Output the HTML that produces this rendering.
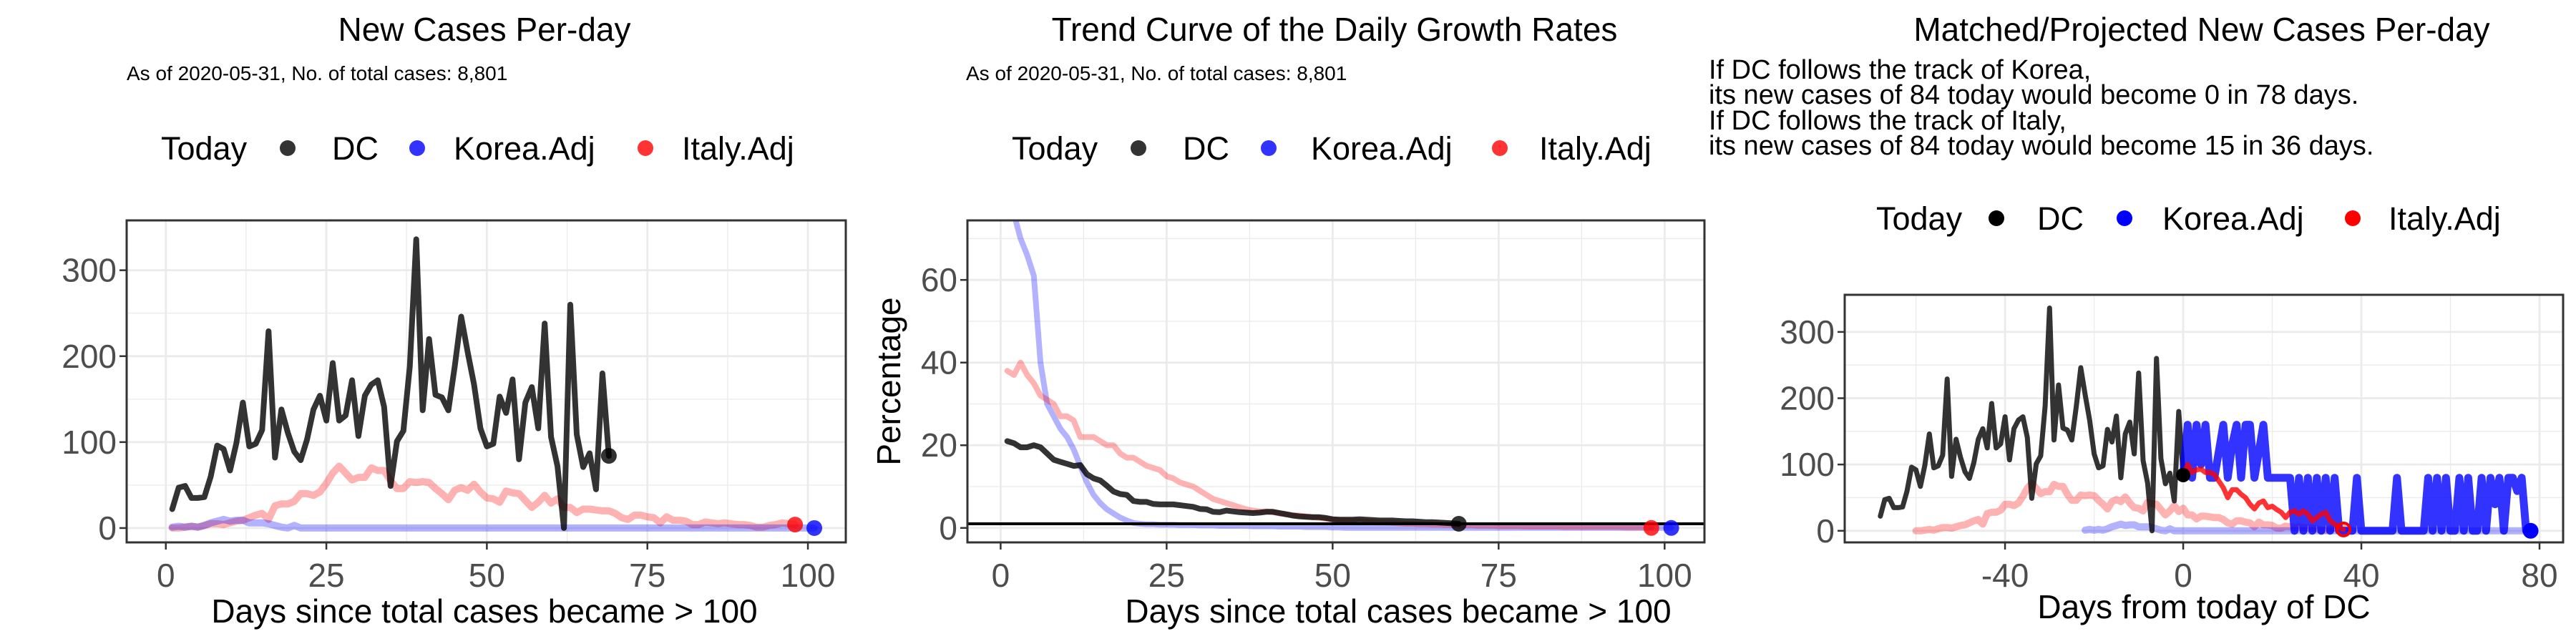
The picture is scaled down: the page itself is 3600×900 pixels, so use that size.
<!DOCTYPE html>
<html><head><meta charset="utf-8"><style>
body{margin:0;background:#fff}
svg{display:block;font-family:"Liberation Sans",sans-serif}
</style></head><body>
<svg id="c" width="3600" height="900" viewBox="0 0 3600 900" xmlns="http://www.w3.org/2000/svg">
<rect width="3600" height="900" fill="#fff"/>
<g font-size="46" fill="#000">
<text x="677" y="57" text-anchor="middle">New Cases Per-day</text>
<text x="177" y="112" font-size="28">As of 2020-05-31, No. of total cases: 8,801</text>
<text x="1865" y="57" text-anchor="middle">Trend Curve of the Daily Growth Rates</text>
<text x="1350" y="112" font-size="28">As of 2020-05-31, No. of total cases: 8,801</text>
<text x="3077" y="57" text-anchor="middle">Matched/Projected New Cases Per-day</text>
<g font-size="38">
<text x="2388" y="110">If DC follows the track of Korea,</text>
<text x="2388" y="145">its new cases of 84 today would become 0 in 78 days.</text>
<text x="2388" y="181">If DC follows the track of Italy,</text>
<text x="2388" y="216">its new cases of 84 today would become 15 in 36 days.</text>
</g>
</g>
<g id="legends" font-size="45"></g>
<g id="p1"></g><g id="p2"></g><g id="p3"></g>
</svg>
<script>
// ---- data ----
const dcDays = [1,2,3,4,5,6,7,8,9,10,11,12,13,14,15,16,17,18,19,20,21,22,23,24,25,26,27,28,29,30,31,32,33,34,35,36,37,38,39,40,41,42,43,44,45,46,47,48,49,50,51,52,53,54,55,56,57,58,59,60,61,62,63,64,65,66,67,68,69];
const dcNew = [22,47,49,35,35,36,60,96,92,67,99,146,95,98,114,229,82,138,111,89,79,103,138,154,125,192,125,131,172,107,154,167,172,141,49,101,113,188,336,137,220,155,152,137,188,246,205,167,116,95,98,153,134,173,80,146,164,116,238,106,72,0,260,109,71,87,45,180,84];
const italyNew = [0,0,1,2,1,3,5,5,4,6,8,9,12,15,17,10,26,28,28,31,40,40,38,42,52,64,72,64,56,59,59,70,67,67,55,46,46,54,53,54,53,46,40,33,44,47,44,51,42,35,34,30,43,41,40,32,24,30,38,29,34,24,24,18,22,22,21,20,20,17,12,10,15,15,13,12,6,13,9,9,8,4,4,7,6,5,6,5,4,4,3,1,1,3,4,6,5,4];
const koreaNew = [1,2,1,2,1,3,6,8,10,8,9,9,6,6,6,5,3,1,0,3,0,0,0,0,0,0,0,0,0,0,0,0,0,0,0,0,0,0,0,0,0,0,0,0,0,0,0,0,0,0,0,0,0,0,0,0,0,0,0,0,0,0,0,0,0,0,0,0,0,0,0,0,0,0,0,0,0,0,0,0,0,0,0,0,0,0,0,0,0,0,0,0,0,0,0,0,0,0,0,0,0];
const dcGrowth = [21,20.5,19.5,19.5,20,19.5,18,16.5,16,15.5,15,15.2,13,12,11.5,10.2,8.8,8.2,8,6.5,6.3,6.3,5.8,5.7,5.7,5.7,5.5,5.3,5.1,4.6,4.5,3.9,3.8,4.2,4.0,3.8,3.7,3.6,3.7,3.9,3.9,3.6,3.3,3.0,2.8,2.7,2.6,2.6,2.4,2.1,2.0,2.0,2.0,2.1,2.0,1.9,1.8,1.8,1.8,1.7,1.6,1.6,1.5,1.4,1.4,1.3,1.2,1.1,1.0];
const italyGrowth = [38,37,40,37,35,32,31,30,27,27,26,22,22,22,21,20,20,18,17,17,16,15,14.5,14,12.5,12,11,10.5,10,9,8,7,6.5,6,5.5,5,4.5,4.2,4,4,3.8,3.5,3.3,3.1,3.0,2.8,2.6,2.4,2.2,2.0,1.9,1.8,1.7,1.6,1.5,1.4,1.3,1.3,1.2,1.1,1.0,1.0,0.9,0.9,0.8,0.8,0.7,0.7,0.6,0.6,0.6,0.5,0.5,0.5,0.4,0.4,0.4,0.4,0.3,0.3,0.3,0.3,0.3,0.3,0.2,0.2,0.2,0.2,0.2,0.2,0.2,0.2,0.2,0.1,0.1,0.1,0.1,0.1];
const koreaGrowth = [85,76,70,66,61,40,30,27,24,22,19,15,11,8,6,4.5,3.5,2.5,1.8,1.2,1.0,0.9,0.9,0.8,0.8,0.8,0.7,0.7,0.7,0.6,0.6,0.6,0.5,0.5,0.5,0.5,0.5,0.4,0.4,0.4,0.4,0.3,0.3,0.3,0.3,0.2,0.2,0.2,0.2,0.1,0.1,0,0,0,0,0,0,0,0,0,0,0,0,0,0,0,0,0,0,0,0,0,0,0,0,0,0,0,0,0,0,0,0,0,0,0,0,0,0,0,0,0,0,0,0,0,0,0,0,0,0];
const redProj = [84,100,88,92,93,88,88,85,75,65,50,62,62,55,50,40,33,42,45,35,37,32,28,20,28,30,25,30,25,15,20,25,28,15,10,5,2];
const blueProj = [84,160,80,160,100,160,80,80,120,160,80,130,160,80,160,160,80,120,160,80,80,80,80,80,80,0,80,0,80,0,80,0,80,0,80,0,0,0,0,80,0,0,0,0,0,0,0,0,80,0,0,0,0,0,0,80,0,80,0,80,0,0,80,0,80,0,0,80,0,80,40,80,0,80,80,60,80,0,0];
const p1XTicks = [0,25,50,75,100];
const p1YTicks = [0,100,200,300];
const p2YTicks = [0,20,40,60];
const p3XTicks = [-40,0,40,80];
const dcShift = -69, italyShift = -61, koreaShift = -23;

const NS='http://www.w3.org/2000/svg';
function el(parent,tag,attrs){const e=document.createElementNS(NS,tag);for(const k in attrs)e.setAttribute(k,attrs[k]);parent.appendChild(e);return e;}

function panel(id,box,xd,yd,xMaj,xMin,yMaj,yMin){
  const g=document.getElementById(id);
  const sx=v=>box.l+(v-xd[0])/(xd[1]-xd[0])*(box.r-box.l);
  const sy=v=>box.b-(v-yd[0])/(yd[1]-yd[0])*(box.b-box.t);
  const cp=el(g,'clipPath',{id:id+'clip'});
  el(cp,'rect',{x:box.l,y:box.t,width:box.r-box.l,height:box.b-box.t});
  const grid=el(g,'g',{});
  
  
  xMin.forEach(v=>el(grid,'line',{x1:sx(v),x2:sx(v),y1:box.t,y2:box.b,stroke:'#ebebeb','stroke-width':1.3}));
  yMin.forEach(v=>el(grid,'line',{y1:sy(v),y2:sy(v),x1:box.l,x2:box.r,stroke:'#ebebeb','stroke-width':1.3}));
  xMaj.forEach(v=>el(grid,'line',{x1:sx(v),x2:sx(v),y1:box.t,y2:box.b,stroke:'#ebebeb','stroke-width':2.8}));
  yMaj.forEach(v=>el(grid,'line',{y1:sy(v),y2:sy(v),x1:box.l,x2:box.r,stroke:'#ebebeb','stroke-width':2.8}));
  const data=el(g,'g',{'clip-path':'url(#'+id+'clip)'});
  const ax=el(g,'g',{});
  el(ax,'rect',{x:box.l,y:box.t,width:box.r-box.l,height:box.b-box.t,fill:'none',stroke:'#333','stroke-width':3});
  const xt=el(ax,'g',{'font-size':46,fill:'#4d4d4d','text-anchor':'middle'});
  
  
  xMaj.forEach(v=>{el(xt,'line',{x1:sx(v),x2:sx(v),y1:box.b,y2:box.b+10,stroke:'#333','stroke-width':2.5});const t=el(xt,'text',{x:sx(v),y:box.b+62});t.textContent=v;});
  const yt=el(ax,'g',{'font-size':46,fill:'#4d4d4d','text-anchor':'end'});
  
  
  yMaj.forEach(v=>{el(yt,'line',{x1:box.l-10,x2:box.l,y1:sy(v),y2:sy(v),stroke:'#333','stroke-width':2.5});const t=el(yt,'text',{x:box.l-14,y:sy(v)+16});t.textContent=v;});
  return {g,data,sx,sy,box};
}
function line(P,xs,ys,color,op,w,name){
  const d=xs.map((x,i)=>(i?'L':'M')+P.sx(x).toFixed(1)+','+P.sy(ys[i]).toFixed(1)).join('');
  const p=el(P.data,'path',{d,fill:'none',stroke:color,'stroke-opacity':op,'stroke-width':w,'stroke-linejoin':'round','stroke-linecap':'round'});
  
  
  return p;
}
function dot(P,x,y,color,op,r,name,hollow){
  const c=el(P.data,'circle',{cx:P.sx(x),cy:P.sy(y),r,fill:hollow?'none':color,'fill-opacity':op,stroke:color,'stroke-width':hollow?4:0});
  
  
}
const idx=n=>Array.from({length:n},(_,i)=>i+1);

// Panel 1
const P1=panel('p1',{l:177,r:1182,t:308,b:758},[-6.1,105.9],[-16.7,358],p1XTicks,[12.5,37.5,62.5,87.5],p1YTicks,[50,150,250]);
line(P1,idx(italyNew.length),italyNew,'#ff0000',0.3,10,'italy-adj-line');
line(P1,idx(koreaNew.length),koreaNew,'#0000ff',0.3,10,'korea-adj-line');
line(P1,dcDays,dcNew,'#000',0.8,8,'dc-line');
dot(P1,69,84,'#000',0.8,11,'dc-today-point');
dot(P1,98,italyNew[97],'#ff0000',0.8,11,'italy-today-point');
dot(P1,101,0,'#0000ff',0.8,11,'korea-today-point');
{const t=el(P1.g,'text',{x:677,y:870,'font-size':46,'text-anchor':'middle'});t.textContent='Days since total cases became > 100';}

// Panel 2
const P2=panel('p2',{l:1352,r:2382,t:308,b:758},[-5,106],[-3.5,74.4],p1XTicks,[12.5,37.5,62.5,87.5],p2YTicks,[10,30,50,70]);
line(P2,idx(koreaGrowth.length),koreaGrowth,'#0000ff',0.3,8,'korea-growth-line');
line(P2,idx(italyGrowth.length),italyGrowth,'#ff0000',0.3,8,'italy-growth-line');
line(P2,dcDays,dcGrowth,'#000',0.8,8,'dc-growth-line');
{const l=el(P2.data,'line',{x1:1352,x2:2382,y1:P2.sy(1),y2:P2.sy(1),stroke:'#000','stroke-width':4});}
dot(P2,69,dcGrowth[68],'#000',0.8,11,'dc-growth-today-point');
dot(P2,98,0,'#ff0000',0.8,11,'italy-growth-today-point');
dot(P2,101,0,'#0000ff',0.8,11,'korea-growth-today-point');
{const t=el(P2.g,'text',{x:1954,y:870,'font-size':46,'text-anchor':'middle'});t.textContent='Days since total cases became > 100';}
{const t=el(P2.g,'text',{x:1258,y:533,'font-size':46,'text-anchor':'middle',transform:'rotate(-90 1258 533)'});t.textContent='Percentage';}

// Panel 3
const P3=panel('p3',{l:2578,r:3582,t:412,b:758},[-76,85.3],[-17.5,356],p3XTicks,[-60,-20,20,60],p1YTicks,[50,150,250]);
line(P3,idx(italyNew.length).map(d=>d+italyShift),italyNew,'#ff0000',0.3,10,'italy-matched-line');
line(P3,idx(koreaNew.length).map(d=>d+koreaShift),koreaNew,'#0000ff',0.3,10,'korea-matched-line');
line(P3,dcDays.map(d=>d+dcShift),dcNew,'#000',0.8,7,'dc-history-line');
line(P3,blueProj.map((_,i)=>i),blueProj,'#0000ff',0.8,11,'korea-projection-line');
line(P3,redProj.map((_,i)=>i),redProj,'#ff0000',0.8,7,'italy-projection-line');
dot(P3,0,84,'#000',1,10,'dc-today-point-p3');
dot(P3,redProj.length-1,redProj[redProj.length-1],'#ff0000',1,9,'italy-projection-end',true);
dot(P3,blueProj.length-1,0,'#0000ff',1,11,'korea-projection-end');
{const t=el(P3.g,'text',{x:3080,y:864,'font-size':46,'text-anchor':'middle'});t.textContent='Days from today of DC';}

// Legends
const LG=document.getElementById('legends');
function legend(y,xs,op,pfx){
  const g=el(LG,'g',{});
  
  
  const t0=el(g,'text',{x:xs[0],y:y+16});t0.textContent='Today';
  const items=[['DC','#000'],['Korea.Adj','#0000ff'],['Italy.Adj','#ff0000']];
  items.forEach((it,i)=>{
    const c=el(g,'circle',{cx:xs[1+2*i],cy:y,r:11,fill:it[1],'fill-opacity':op});
    
    
    const t=el(g,'text',{x:xs[2+2*i],y:y+16});t.textContent=it[0];
    
    
  });
}
legend(207,[225,402,464,583,634,902,953],0.8,'p1');
legend(207,[1414,1591,1653,1773,1832,2096,2151],0.8,'p2');
legend(305,[2622,2790,2847,2969,3022,3288,3338],1,'p3');
</script>
</body></html>
